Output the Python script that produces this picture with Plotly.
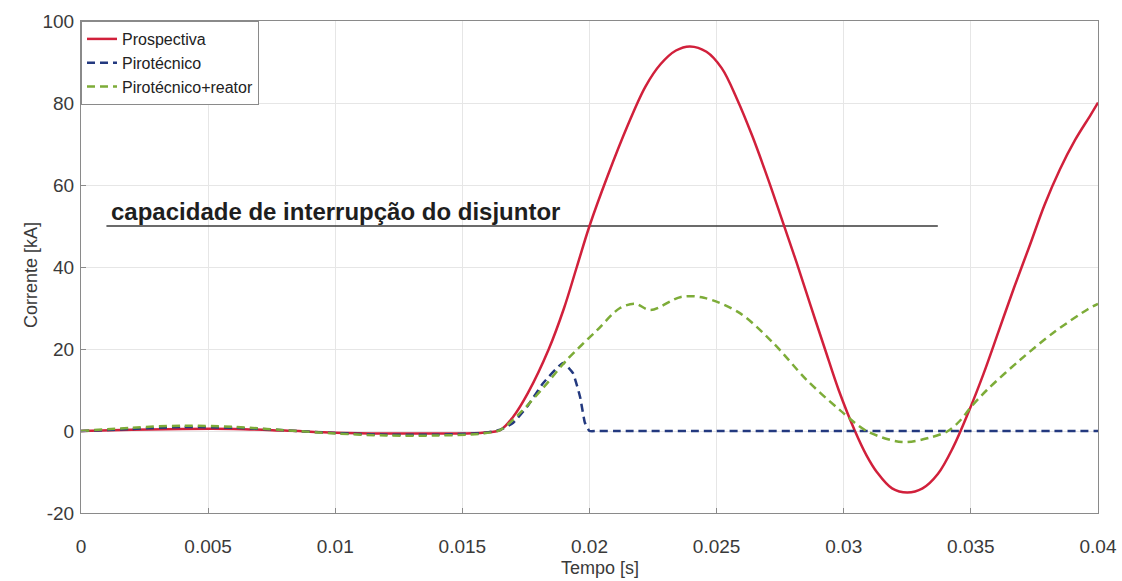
import plotly.graph_objects as go

# ---- data ----
t_prosp = [0, 0.002, 0.004, 0.006, 0.008, 0.010, 0.012, 0.014, 0.0158, 0.0165, 0.0170,
           0.01758, 0.0184, 0.0190, 0.0195, 0.0200, 0.0207, 0.0215, 0.0222, 0.0228,
           0.0234, 0.02395, 0.0246, 0.0252, 0.0258, 0.0264, 0.02702, 0.0276, 0.02815,
           0.0287, 0.02926, 0.0298, 0.03044, 0.0309, 0.0313, 0.0319, 0.0325, 0.0331,
           0.0337, 0.0343, 0.0349, 0.0355, 0.0361, 0.0367, 0.0373, 0.0379, 0.0385,
           0.0391, 0.0397, 0.0400]
i_prosp = [0, 0.3, 0.5, 0.5, 0.1, -0.4, -0.6, -0.6, -0.4, 0.3, 3.5,
           9.3, 20, 30, 40, 50, 62, 74.5, 84, 89.5,
           92.8, 93.8, 92.5, 88.5, 81, 72, 61.5, 51, 41,
           30.5, 20, 10, 0, -6, -10, -14, -15, -14,
           -10.5, -4, 4.5, 14, 24.5, 35, 45, 55.2, 63.8,
           71, 77, 80.1]

t_piro = [0, 0.002, 0.004, 0.006, 0.008, 0.010, 0.012, 0.014, 0.0158, 0.0165, 0.0170,
          0.01754, 0.01818, 0.01896, 0.01935, 0.01963, 0.01982, 0.0200, 0.0203, 0.0210,
          0.025, 0.030, 0.035, 0.040]
i_piro = [0, 0.5, 1.0, 0.8, 0.2, -0.5, -0.9, -0.9, -0.5, 0.3, 2.0,
          5.9, 11.7, 16.6, 14.1, 8.3, 2.0, 0, 0, 0,
          0, 0, 0, 0]

t_reat = [0, 0.002, 0.004, 0.006, 0.008, 0.010, 0.012, 0.014, 0.0158, 0.0165, 0.01727,
          0.0182, 0.0191, 0.0203, 0.0212, 0.0218, 0.0224, 0.0236, 0.0245, 0.0259,
          0.02722, 0.02855, 0.02985, 0.0309, 0.0323, 0.0334, 0.0341, 0.03457, 0.0350,
          0.03563, 0.03693, 0.03823, 0.0396, 0.0400]
i_reat = [0, 0.8, 1.3, 1.0, 0.2, -0.6, -1.1, -1.1, -0.6, 0.3, 4.4,
          10.7, 17.3, 24.6, 30, 31, 29.5, 32.7, 32.5, 28.8,
          21.5, 12.4, 5.1, 0, -2.7, -1.6, 0, 2.5, 5.8,
          10, 17.3, 23.9, 29.7, 31.0]

cap_t = [0.001, 0.0337]
cap_i = [50, 50]
cap_label = "capacidade de interrupção do disjuntor"

x_ticks = [0, 0.005, 0.01, 0.015, 0.02, 0.025, 0.03, 0.035, 0.04]
x_tick_text = ["0", "0.005", "0.01", "0.015", "0.02", "0.025", "0.03", "0.035", "0.04"]
y_ticks = [-20, 0, 20, 40, 60, 80, 100]
y_tick_text = ["-20", "0", "20", "40", "60", "80", "100"]

FONT = "Liberation Sans, Arial, sans-serif"
TXT = "#3a3a3a"

fig = go.Figure()
fig.add_trace(go.Scatter(x=cap_t, y=cap_i, mode="lines", showlegend=False,
                         line=dict(color="#3a3a3a", width=1.3), hoverinfo="skip"))
fig.add_trace(go.Scatter(x=t_prosp, y=i_prosp, mode="lines", name="Prospectiva",
                         line=dict(color="#d1203b", width=2.5, shape="spline", smoothing=1.0)))
fig.add_trace(go.Scatter(x=t_piro, y=i_piro, mode="lines", name="Pirotécnico",
                         line=dict(color="#23397f", width=2.5, dash="8px,5px", shape="spline", smoothing=0.4)))
fig.add_trace(go.Scatter(x=t_reat, y=i_reat, mode="lines", name="Pirotécnico+reator",
                         line=dict(color="#7dac38", width=2.5, dash="8px,5px", shape="spline", smoothing=0.9)))

fig.add_annotation(x=0.00112, y=53.5, text="<b>" + cap_label + "</b>", showarrow=False,
                   xanchor="left", yanchor="middle",
                   font=dict(family=FONT, size=24, color="#1e1e1e"))

# axis titles
fig.add_annotation(xref="paper", yref="paper", x=0.5, y=0, yshift=-55, xshift=10,
                   xanchor="center", yanchor="middle", text="Tempo [s]", showarrow=False,
                   font=dict(family=FONT, size=18, color=TXT))
fig.add_annotation(xref="paper", yref="paper", x=0, y=0.5, xshift=-50, yshift=-8,
                   xanchor="center", yanchor="middle", text="Corrente [kA]", textangle=-90,
                   showarrow=False, font=dict(family=FONT, size=18, color=TXT))

axis_common = dict(showgrid=True, gridcolor="#e6e6e6", gridwidth=1, zeroline=False,
                   showline=True, linecolor="#8a8a8a", linewidth=1, mirror=True,
                   ticks="inside", ticklen=5, tickcolor="#8a8a8a", automargin=False,
                   tickfont=dict(family=FONT, size=19, color=TXT))

fig.update_layout(
    width=1122, height=581,
    margin=dict(l=81, r=24, t=21, b=68),
    paper_bgcolor="white", plot_bgcolor="white",
    font=dict(family=FONT, color=TXT),
    xaxis=dict(range=[0, 0.04], tickvals=x_ticks, ticktext=x_tick_text,
               ticklabelstandoff=16, **axis_common),
    yaxis=dict(range=[-20, 100], tickvals=y_ticks, ticktext=y_tick_text,
               ticklabelstandoff=2, **axis_common),
    legend=dict(x=0, y=1, xanchor="left", yanchor="top", bgcolor="white",
                bordercolor="#8a8a8a", borderwidth=1,
                font=dict(family=FONT, size=16, color="#222222"),
                itemwidth=30, tracegroupgap=0),
    showlegend=True,
)

fig.write_html("out.html", config={"displayModeBar": False},
               post_script="document.body.style.margin='0';document.body.style.overflow='hidden';")
